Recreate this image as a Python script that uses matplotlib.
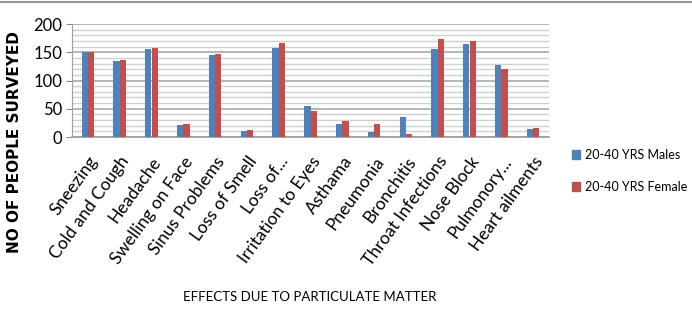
import numpy as np
import matplotlib
matplotlib.use("Agg")
import matplotlib.pyplot as plt
from matplotlib.lines import Line2D
from matplotlib.patches import Patch

categories = ["Sneezing", "Cold and Cough", "Headache", "Swelling on Face",
              "Sinus Problems", "Loss of Smell", "Loss of...", "Irritation to Eyes",
              "Asthama", "Pneumonia", "Bronchitis", "Throat Infections",
              "Nose Block", "Pulmonory...", "Heart ailments"]
males = [151, 134, 156, 21, 145, 10, 158, 55, 23, 9, 36, 155, 165, 127, 14]
females = [150, 136, 158, 23, 147, 12, 166, 46, 28, 23, 5, 173, 170, 120, 16]
series_names = ["20-40 YRS Males", "20-40 YRS Female"]

BLUE = "#4F81BD"
RED = "#C0504D"

plt.rcParams["font.family"] = ["Lato", "DejaVu Sans"]

fig = plt.figure(figsize=(6.92, 3.11), dpi=100)
ax = fig.add_axes([72/692, 1-137/311, (549-72)/692, 113/311])

x = np.arange(len(categories))
w = 0.2
ax.bar(x - w/2, males, w, color=BLUE, zorder=3)
ax.bar(x + w/2, females, w, color=RED, zorder=3)

ax.set_xlim(-0.5, len(categories) - 0.5)
ax.set_ylim(0, 200)
ax.set_yticks([0, 50, 100, 150, 200])
ax.set_yticks(np.arange(0, 201, 10), minor=True)
ax.grid(axis="y", which="minor", color="#D0D0D0", lw=1.0, zorder=0)
ax.grid(axis="y", which="major", color="#A8A8A8", lw=1.2, zorder=0)
ax.tick_params(axis="y", which="minor", length=0)
ax.tick_params(axis="y", which="major", length=4, color="#888888", labelsize=12, pad=3)
for s in ["top", "right"]:
    ax.spines[s].set_visible(False)
ax.spines["left"].set_color("#A0A0A0")
ax.spines["bottom"].set_color("#A0A0A0")
ax.spines["bottom"].set_linewidth(1.3)

ax.set_xticks(x)
ax.set_xticklabels(categories, rotation=54, ha="right", rotation_mode="anchor",
                   fontsize=12.5)
ax.tick_params(axis="x", length=0, pad=12)

fig.text(15/692, 1-142/311, "NO OF PEOPLE SURVEYED", rotation=90, ha="center",
         va="center", fontsize=11, fontweight="bold", family="DejaVu Sans")
fig.text(310/692, 1-297/311, "EFFECTS DUE TO PARTICULATE MATTER", ha="center",
         va="center", fontsize=9.5)

handles = [Patch(color=BLUE), Patch(color=RED)]
fig.legend(handles, series_names, loc="center left",
           bbox_to_anchor=(561/692, 1-171/311), frameon=False, fontsize=9,
           handlelength=0.6, handleheight=0.8, handletextpad=0.4, labelspacing=1.6)

# thin grey border line along the top edge
fig.add_artist(Line2D([0, 1], [1-1.5/311, 1-1.5/311], color="#999999", lw=1.5))

fig.savefig("out.png", dpi=100)
